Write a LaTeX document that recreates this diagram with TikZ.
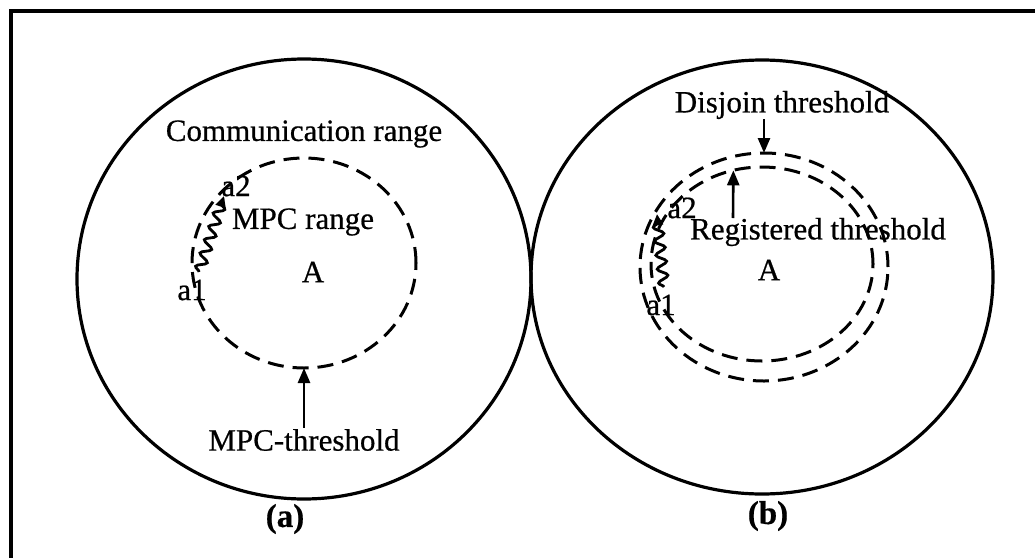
\documentclass[tikz,border=0pt]{standalone}
\usepackage{fontspec}
\setmainfont{Liberation Serif}[FakeBold=0.6]
\usetikzlibrary{shapes.geometric,arrows.meta,decorations.pathmorphing}
\tikzset{
  zone/.style={ellipse,draw,line width=3.2pt,inner sep=0pt,outer sep=0pt},
  limit/.style={ellipse,draw,line width=3pt,dash pattern=on 16pt off 9pt,inner sep=0pt,outer sep=0pt},
  lbl/.style={font=\fontsize{31}{31}\selectfont,inner sep=1pt},
  sublbl/.style={font=\fontsize{33}{33}\selectfont\bfseries,inner sep=1pt},
  pointer/.style={line width=2.6pt,-{Triangle[length=15pt,width=12pt]}},
  drift/.style={line width=2.8pt,decorate,decoration={snake,amplitude=5pt,segment length=14pt,post length=7pt},-{Triangle[length=11pt,width=10pt]}}
}
\begin{document}
\begin{tikzpicture}[x=1pt,y=-1pt]
\useasboundingbox (0,0) rectangle (1035,557);
\clip (0,0) rectangle (1035,557);
% outer frame
\draw[line width=3.6pt] (11,11) rectangle (1060,600);

% ---- (a) ----
\node[zone,minimum width=454pt,minimum height=440pt] (commA) at (304,279) {};
\node[limit,minimum width=224pt,minimum height=210pt] (mpc) at (304,263) {};
\node[lbl] (commlbl) at (304,134) {Communication range};
\node[lbl] (mpclbl) at (303,222) {MPC range};
\node[lbl] (ctrA) at (313,272) {A};
\node[lbl] (mpcthr) at (304,440) {MPC-threshold};
\node[lbl] (a1A) at (192,290) {a1};
\node[lbl] (a2A) at (236,186) {a2};
\coordinate (sA) at (199,272);
\coordinate (eA) at (224,196);
\draw[drift] (sA) -- (eA);
\draw[pointer] (mpcthr.north) -- (mpc.south);
\node[sublbl] (capA) at (285,519) {(a)};

% ---- (b) ----
\node[zone,minimum width=462pt,minimum height=434pt] (commB) at (762,277) {};
\node[limit,minimum width=248pt,minimum height=228pt] (disjc) at (764,267) {};
\node[limit,minimum width=222pt,minimum height=194pt] (regc) at (762,264) {};
\node[lbl] (disj) at (782,105) {Disjoin threshold};
\node[lbl] (reg) at (818,232) {Registered threshold};
\node[lbl] (ctrB) at (769,270) {A};
\node[lbl] (a1B) at (661,305) {a1};
\node[lbl] (a2B) at (682,208) {a2};
\coordinate (sB) at (664,287);
\coordinate (eB) at (657,214);
\draw[drift] (sB) -- (eB);
\coordinate (disjfoot) at (764,119);
\draw[pointer] (disjfoot) -- (disjc.north);
\coordinate (regfoot) at (733,218);
\draw[pointer] (regfoot) -- (regc.107);
\node[sublbl] (capB) at (768,516) {(b)};
\end{tikzpicture}
\end{document}
